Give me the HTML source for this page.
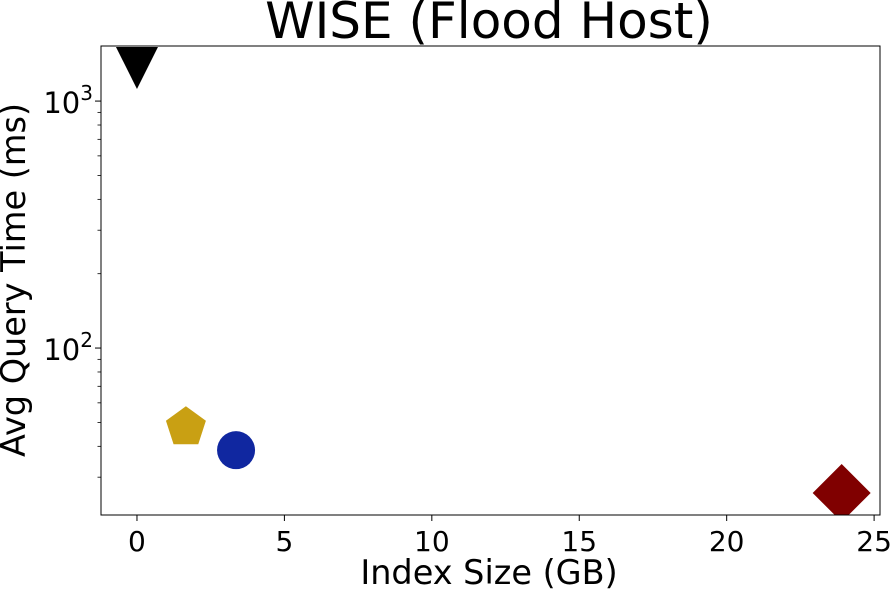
<!DOCTYPE html>
<html><head><meta charset="utf-8"><style>
body{margin:0;background:#fff;}
svg text{font-family:"DejaVu Sans","Liberation Sans",sans-serif;fill:#000;}
</style></head><body>
<svg id="chart" width="892" height="592" xmlns="http://www.w3.org/2000/svg">
<text x="489" y="38" font-size="50" text-anchor="middle">WISE (Flood Host)</text>
<g id="plot"></g>
<text x="489" y="584" font-size="33.5" text-anchor="middle">Index Size (GB)</text>
<text transform="translate(25,280) rotate(-90)" font-size="33.5" text-anchor="middle">Avg Query Time (ms)</text>
</svg>
<script>
const names=["triangle","pentagon","circle","diamond"];
const sizes=[0,1.66,3.36,23.9];
const times=[1400,48.7,38.6,25.9];
const colors=["#000000","#c9a013","#1027a0","#800000"];
const xTicks=[0,5,10,15,20,25];
const yTicks=[100,1000];
const yTickExp=["2","3"];
const L=101,R=880,T=46,B=515;
const xMin=-1.22,xMax=25.2,yMinLog=1.324,yMaxLog=3.223;
const xs=v=>L+(v-xMin)/(xMax-xMin)*(R-L);
const ys=v=>B-(Math.log10(v)-yMinLog)/(yMaxLog-yMinLog)*(B-T);
const NS="http://www.w3.org/2000/svg";
const g=document.getElementById('plot');
function mk(t,a){const e=document.createElementNS(NS,t);for(const k in a)e.setAttribute(k,a[k]);g.appendChild(e);return e;}
xTicks.forEach(v=>{
 const x=xs(v);
 const l=mk('line',{x1:x,x2:x,y1:B,y2:B+6,stroke:'#000','stroke-width':1});
 
 
 const t=mk('text',{x:x,y:B+36,'font-size':28,'text-anchor':'middle'});t.textContent=v;
 
 
});
yTicks.forEach((v,i)=>{
 const y=ys(v);
 const l=mk('line',{x1:L-6,x2:L,y1:y,y2:y,stroke:'#000','stroke-width':1});
 
 
 const t=mk('text',{x:L-8,y:y+12,'font-size':29,'text-anchor':'end'});
 t.innerHTML='10<tspan dy="-13" font-size="20">'+yTickExp[i]+'</tspan>';
 
 
});
for(let d=1;d<=3;d++)for(let m=2;m<10;m++){const v=m*Math.pow(10,d);if(Math.log10(v)<yMinLog||Math.log10(v)>yMaxLog)continue;const y=ys(v);
 const l=mk('line',{x1:L-3.5,x2:L,y1:y,y2:y,stroke:'#000','stroke-width':0.8});
 
 }
const clip=document.createElementNS(NS,'clipPath');clip.setAttribute('id','c');
const cr=document.createElementNS(NS,'rect');cr.setAttribute('x',L);cr.setAttribute('y',T);cr.setAttribute('width',R-L);cr.setAttribute('height',B-T);clip.appendChild(cr);g.appendChild(clip);
sizes.forEach((s,i)=>{
 const cx=xs(s),cy=ys(times[i]);let e;
 if(names[i]=="circle")e=mk('circle',{cx:cx,cy:cy,r:19});
 else{let pts;
  if(names[i]=="triangle")pts=[[-21,-18],[21,-18],[0,24]];
  else if(names[i]=="diamond")pts=[[0,-29],[29,0],[0,29],[-29,0]];
  else{pts=[];for(let k=0;k<5;k++){const a=-Math.PI/2+k*2*Math.PI/5;pts.push([21*Math.cos(a),21*Math.sin(a)+2]);}}
  e=mk('polygon',{points:pts.map(p=>(cx+p[0])+','+(cy+p[1])).join(' ')});}
 e.setAttribute('fill',colors[i]);e.setAttribute('clip-path','url(#c)');
 
 
});
const fr=mk('rect',{x:L,y:T,width:R-L,height:B-T,fill:'none',stroke:'#000','stroke-width':1});


</script>
</body></html>
